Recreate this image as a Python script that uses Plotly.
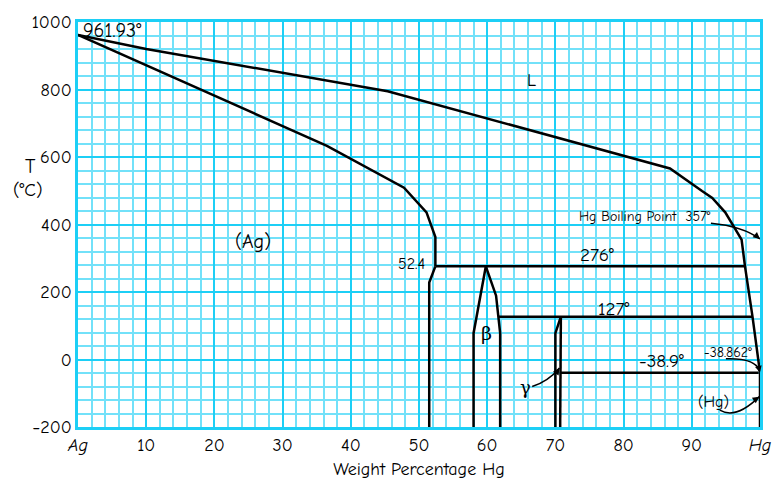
import plotly.graph_objects as go

# Ag-Hg phase diagram: composition in wt% Hg, temperature in °C
liquidus_wt = [0, 10, 45.4, 86.8, 91.5, 93.0, 94.9, 97.3, 97.8, 98.9, 100]
liquidus_T = [961.93, 920, 795, 566, 499, 479, 436, 355, 276, 127, -38.862]

solidus_wt = [0, 36.5, 47.8, 51.1, 52.4, 52.4]
solidus_T = [961.93, 633, 509, 436, 363, 276]

ag_solvus_wt = [52.4, 51.5, 51.5]
ag_solvus_T = [276, 228, -200]

beta_left_wt = [59.8, 59.0, 58.0, 58.0]
beta_left_T = [276, 189, 78, -200]
beta_right_wt = [59.8, 61.3, 61.9, 61.9]
beta_right_T = [276, 189, 78, -200]

gamma_left_wt = [70.0, 70.0, 70.8]
gamma_left_T = [-200, 78, 127]
gamma_right_wt = [70.8, 70.7]
gamma_right_T = [127, -200]

peritectic_276_wt = [52.4, 97.8]
peritectic_276_T = [276, 276]
peritectic_127_wt = [61.6, 98.9]
peritectic_127_T = [127, 127]
eutectic_wt = [70.7, 99.8]
eutectic_T = [-38.9, -38.9]
hg_wt = [100, 100]
hg_T = [-38.862, -200]

x_tickvals = [0, 10, 20, 30, 40, 50, 60, 70, 80, 90, 100]
x_ticktext = ["<i>Ag</i>", "10", "20", "30", "40", "50", "60", "70", "80", "90", "<i>Hg</i>"]
y_tickvals = [-200, 0, 200, 400, 600, 800, 1000]

FONT = "Comic Sans MS, Comic Neue, Lato, sans-serif"
SERIF = "DejaVu Serif, serif"
MAJOR = "#1ccff6"
MINOR = "#72e1f9"

fig = go.Figure()

boundaries = [
    (liquidus_wt, liquidus_T),
    (solidus_wt, solidus_T),
    (ag_solvus_wt, ag_solvus_T),
    (beta_left_wt, beta_left_T),
    (beta_right_wt, beta_right_T),
    (gamma_left_wt, gamma_left_T),
    (gamma_right_wt, gamma_right_T),
    (peritectic_276_wt, peritectic_276_T),
    (peritectic_127_wt, peritectic_127_T),
    (eutectic_wt, eutectic_T),
    (hg_wt, hg_T),
]
for xs, ys in boundaries:
    fig.add_trace(go.Scatter(
        x=xs, y=ys, mode="lines",
        line=dict(color="black", width=2.5),
        hoverinfo="skip", showlegend=False, cliponaxis=False,
    ))


def label(text, x, y, size=19, xanchor="center", family=FONT):
    fig.add_annotation(x=x, y=y, text=text, showarrow=False, xanchor=xanchor,
                       yanchor="middle", font=dict(family=family, size=size, color="black"))


def curved_pointer(tail, ctrl, head, hx, hy):
    """Quadratic curve from tail to head with a small arrowhead at head."""
    fig.add_shape(type="path",
                  path=f"M {tail[0]},{tail[1]} Q {ctrl[0]},{ctrl[1]} {head[0]},{head[1]}",
                  line=dict(color="black", width=1.5), layer="above")
    fig.add_annotation(x=head[0], y=head[1], ax=hx, ay=hy, text="", showarrow=True,
                       arrowhead=2, arrowsize=0.9, arrowwidth=1.5, arrowcolor="black",
                       standoff=0, startstandoff=0)


label("961.93°", 0.5, 976, size=20, xanchor="left")
label("L", 66.5, 828, size=18)
label("(Ag)", 25.7, 349, size=20)
label("52.4", 51.1, 282, size=16, xanchor="right")
label("276°", 76.1, 311, size=19)
label("127°", 78.5, 150, size=19)
label("β", 59.9, 78, size=19, family=SERIF)
label("-38.9°", 85.6, -4, size=19)
label("(Hg)", 93.2, -125, size=16)
label("γ", 65.6, -84, size=18, family=SERIF)
label("Hg Boiling Point  357°", 83.2, 424, size=14)
label("-38.862°", 95.3, 20, size=14)

curved_pointer((92.8, 404), (97.5, 395), (100, 357), -6, -5)
curved_pointer((95.0, 2), (99.6, 5), (100, -38.862), -2, -8)
curved_pointer((94.1, -150), (96.5, -178), (99.9, -110), -7, 5)
curved_pointer((66.6, -80), (69.0, -64), (70.6, -25), -4, 6)

# "T (°C)" to the left of the temperature axis
fig.add_annotation(xref="paper", yref="paper", x=-0.07, y=0.644, text="T",
                   showarrow=False, xanchor="center", yanchor="middle",
                   font=dict(family=FONT, size=20, color="black"))
fig.add_annotation(xref="paper", yref="paper", x=-0.073, y=0.584, text="(°C)",
                   showarrow=False, xanchor="center", yanchor="middle",
                   font=dict(family=FONT, size=19, color="black"))

fig.update_layout(
    width=783, height=489,
    margin=dict(l=78, r=15, t=21, b=55),
    paper_bgcolor="white", plot_bgcolor="white",
    font=dict(family=FONT, size=18, color="black"),
    xaxis=dict(
        range=[0, 100], tickmode="array", tickvals=x_tickvals, ticktext=x_ticktext,
        showgrid=True, gridcolor=MAJOR, gridwidth=2,
        minor=dict(tickmode="linear", tick0=0, dtick=2, showgrid=True,
                   gridcolor=MINOR, gridwidth=1.5),
        showline=True, linecolor=MAJOR, linewidth=2.5, mirror=True,
        zeroline=False, ticks="",
        tickfont=dict(family=FONT, size=18, color="black"),
        title=dict(text="Weight Percentage Hg", standoff=8,
                   font=dict(family=FONT, size=18, color="black")),
        fixedrange=True,
    ),
    yaxis=dict(
        range=[-200, 1000], tickmode="array", tickvals=y_tickvals,
        showgrid=True, gridcolor=MAJOR, gridwidth=2,
        minor=dict(tickmode="linear", tick0=-200, dtick=40, showgrid=True,
                   gridcolor=MINOR, gridwidth=1.5),
        showline=True, linecolor=MAJOR, linewidth=2.5, mirror=True,
        zeroline=False, ticks="",
        tickfont=dict(family=FONT, size=18, color="black"),
        fixedrange=True,
    ),
)

fig.write_html("out.html")
